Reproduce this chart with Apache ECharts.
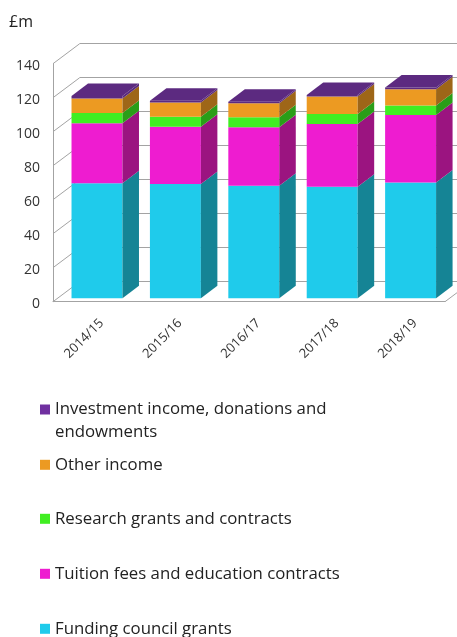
<!DOCTYPE html>
<html><head><meta charset="utf-8">
<script src="https://cdn.jsdelivr.net/npm/echarts@6/dist/echarts.min.js"></script>
<style>html,body{margin:0;padding:0;background:#fff}#c{width:457px;height:637px}</style>
</head><body><div id="c"></div>
<script>
// ---- data ----
const categories = ['2014/15', '2015/16', '2016/17', '2017/18', '2018/19'];
const fundingCouncil   = [67.6, 67.2, 66.2, 65.6, 68.0];
const tuitionFees      = [35.3, 33.7, 34.4, 36.8, 39.8];
const researchGrants   = [6.1, 5.9, 5.9, 6.0, 5.5];
const otherIncome      = [8.4, 8.3, 8.2, 10.2, 9.6];
const investmentIncome = [1.6, 1.1, 0.9, 1.0, 1.0];
const yTicks = [0, 20, 40, 60, 80, 100, 120, 140];
const seriesNames = [
  'Funding council grants',
  'Tuition fees and education contracts',
  'Research grants and contracts',
  'Other income',
  'Investment income, donations and\nendowments'
];
const seriesValues = [fundingCouncil, tuitionFees, researchGrants, otherIncome, investmentIncome];

// ---- styles ----
const FONT = '"Open Sans", "Noto Sans", sans-serif';
const GRID_COLOR = '#A3A3A3';
const frontColors = ['#1FCBEB', '#EE1CD0', '#40EE22', '#EC9A22', '#5C2A80'];
const sideColors  = ['#158495', '#9B1480', '#2A9E18', '#9E6618', '#5A2A7C'];
const legendColors = ['#1FCBEB', '#EE1CD0', '#40EE22', '#EC9A22', '#7030A0'];
const topColor = '#5C2A80';
const WALL_DX = 26.7, WALL_DY = 20;   // depth of the 3D box
const BAR_DX = 16.5, BAR_DY = 12.5;   // depth of a bar
const BAR_RATIO = 0.65;

const chart = echarts.init(document.getElementById('c'), null, {renderer: 'canvas'});

function stacked(k) {
  return categories.map((c, i) => {
    let base = 0;
    for (let j = 0; j < k; j++) base += seriesValues[j][i];
    return [i, base, base + seriesValues[k][i]];
  });
}

function barRender(k) {
  return function (params, api) {
    const i = api.value(0);
    const p0 = api.coord([i, api.value(1)]);
    const p1 = api.coord([i, api.value(2)]);
    const bw = api.size([1, 0])[0] * BAR_RATIO;
    const x0 = p0[0] - bw / 2, x1 = x0 + bw;
    const yb = p0[1], yt = p1[1];
    const children = [
      {type: 'rect', shape: {x: x0, y: yt, width: bw, height: yb - yt},
       style: {fill: frontColors[k]}},
      {type: 'polygon', shape: {points: [[x1, yb], [x1 + BAR_DX, yb - BAR_DY], [x1 + BAR_DX, yt - BAR_DY], [x1, yt]]},
       style: {fill: sideColors[k]}}
    ];
    if (k === seriesValues.length - 1) {
      children.push({type: 'polygon', shape: {points: [[x0, yt], [x0 + BAR_DX, yt - BAR_DY], [x1 + BAR_DX, yt - BAR_DY], [x1, yt]]},
        style: {fill: topColor}});
    }
    return {type: 'group', children};
  };
}

const series = [];
// side wall / floor edges
series.push({
  type: 'custom', xAxisIndex: 0, yAxisIndex: 0, silent: true, z: 1,
  data: yTicks.map(v => [0, v]),
  encode: {x: 0, y: 1},
  renderItem: function (params, api) {
    const cs = params.coordSys;
    const v = api.value(1);
    const y = api.coord([0, v])[1];
    const lineStyle = {stroke: GRID_COLOR, lineWidth: 1};
    const ch = [{type: 'line', shape: {x1: cs.x, y1: y, x2: cs.x + WALL_DX, y2: y - WALL_DY}, style: lineStyle}];
    if (v === 0) {
      ch.push({type: 'line', shape: {x1: cs.x + cs.width, y1: y, x2: cs.x + cs.width + WALL_DX, y2: y - WALL_DY}, style: lineStyle});
    }
    return {type: 'group', children: ch};
  }
});
seriesValues.forEach((vals, k) => {
  series.push({
    name: seriesNames[k], type: 'custom', xAxisIndex: 2, yAxisIndex: 2, z: 3,
    itemStyle: {color: legendColors[k]},
    data: stacked(k), encode: {x: 0, y: [1, 2]},
    renderItem: barRender(k)
  });
});

const legendTops = [375, 456.3, 510.3, 565.3, 620.3];
const legends = [4, 3, 2, 1, 0].map((k, idx) => ({
  data: [seriesNames[k]], orient: 'vertical', left: 40, top: legendTops[idx], padding: 0,
  itemWidth: 10, itemHeight: 10, icon: 'rect', selectedMode: false,
  formatter: idx === 0 ? (n => '\n' + n) : (n => n),
  textStyle: {fontFamily: FONT, fontSize: 16.8, color: '#222', lineHeight: idx === 0 ? 23 : 16}
}));

chart.setOption({
  animation: false,
  backgroundColor: '#fff',
  title: {text: '£m', left: 9, top: 14, padding: 0,
    textStyle: {fontFamily: FONT, fontSize: 16, fontWeight: 'normal', color: '#222'}},
  legend: legends,
  grid: [
    {left: 53, top: 63.7, width: 392, height: 238},   // front plane
    {left: 79.7, top: 43.7, width: 392, height: 238}, // back wall
    {left: 57.8, top: 60.2, width: 392, height: 238}, // bar front plane
    {left: 62.4, top: 60.2, width: 392, height: 238}, // category label anchor
    {left: 53, top: 66.3, width: 392, height: 238}    // value label anchor
  ],
  xAxis: [
    {gridIndex: 0, type: 'category', data: categories,
     axisLine: {show: true, lineStyle: {color: GRID_COLOR, width: 1}},
     axisTick: {show: false}, axisLabel: {show: false}, splitLine: {show: false}},
    {gridIndex: 1, type: 'category', data: categories, show: false},
    {gridIndex: 2, type: 'category', data: categories, show: false},
    {gridIndex: 3, type: 'category', data: categories,
     axisLine: {show: false}, axisTick: {show: false}, splitLine: {show: false},
     axisLabel: {rotate: 45, margin: 23, fontSize: 13, fontFamily: FONT, color: '#333', interval: 0}},
    {gridIndex: 4, type: 'category', data: categories, show: false}
  ],
  yAxis: [
    {gridIndex: 0, type: 'value', min: 0, max: 140, interval: 20,
     axisLine: {show: true, lineStyle: {color: GRID_COLOR, width: 1}},
     axisTick: {show: false}, splitLine: {show: false}, axisLabel: {show: false}},
    {gridIndex: 1, type: 'value', min: 0, max: 140, interval: 20,
     axisLine: {show: false}, axisTick: {show: false}, axisLabel: {show: false},
     splitLine: {show: true, lineStyle: {color: GRID_COLOR, width: 1}}},
    {gridIndex: 2, type: 'value', min: 0, max: 140, interval: 20, show: false},
    {gridIndex: 3, type: 'value', min: 0, max: 140, interval: 20, show: false},
    {gridIndex: 4, type: 'value', min: 0, max: 140, interval: 20,
     axisLine: {show: false}, axisTick: {show: false}, splitLine: {show: false},
     axisLabel: {margin: 13, fontSize: 14, fontFamily: FONT, color: '#333'}}
  ],
  series: series
});
</script>
</body></html>
